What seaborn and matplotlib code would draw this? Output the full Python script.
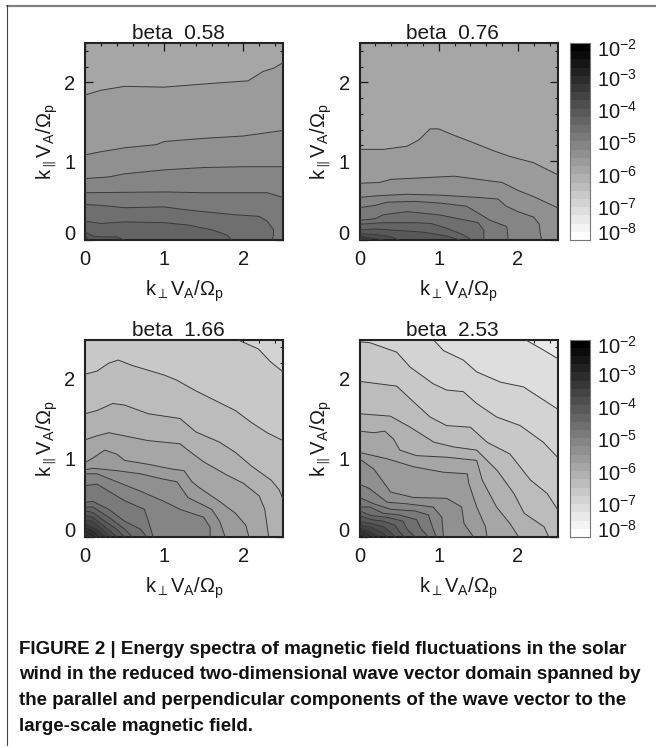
import numpy as np
import matplotlib
matplotlib.use("Agg")
import matplotlib.pyplot as plt
from matplotlib.colors import ListedColormap
from matplotlib.lines import Line2D
from matplotlib.ticker import MultipleLocator
import seaborn as sns

# contour traces, outermost first
p1_start = 8
p1_kperp = [
    [0, 0.2, 0.5, 1.0, 1.5, 2.06, 2.25, 2.38, 2.5],
    [0, 0.2, 0.5, 0.9, 1.0, 1.5, 2.0, 2.5],
    [0, 0.3, 0.5, 1.0, 1.5, 2.0, 2.5],
    [0, 1.0, 1.5, 2.0, 2.3, 2.5],
    [0, 0.2, 0.5, 1.0, 1.3, 1.5, 1.9, 2.2, 2.3, 2.38, 2.38, 2.36],
    [0, 0.2, 0.5, 1.0, 1.3, 1.6, 1.8, 1.85],
    [0, 0.1, 0.2, 0.4, 0.5],
    [0, 0.05],
]
p1_kpar = [
    [1.84, 1.9, 1.95, 1.94, 1.98, 2.02, 2.14, 2.18, 2.25],
    [1.08, 1.12, 1.17, 1.21, 1.25, 1.29, 1.32, 1.39],
    [0.78, 0.80, 0.84, 0.89, 0.92, 0.93, 0.93],
    [0.60, 0.61, 0.60, 0.60, 0.60, 0.54],
    [0.45, 0.44, 0.41, 0.42, 0.38, 0.36, 0.32, 0.30, 0.24, 0.13, 0.05, 0],
    [0.24, 0.21, 0.23, 0.22, 0.19, 0.13, 0.06, 0],
    [0.10, 0.05, 0.04, 0.04, 0],
    [0.05, 0],
]

p2_start = 8
p2_kperp = [
    [0, 0.3, 0.6, 0.75, 0.89, 1.0, 1.19, 1.4, 1.7, 1.9, 2.2, 2.5],
    [0, 0.25, 0.4, 0.8, 1.2, 1.5, 1.8, 2.0, 2.2, 2.5],
    [0, 0.2, 0.6, 1.0, 1.5, 1.75, 1.85, 2.0, 2.2, 2.27, 2.28, 2.3],
    [0, 0.2, 0.35, 0.7, 1.0, 1.35, 1.65, 1.86, 1.87, 1.88],
    [0, 0.2, 0.3, 0.6, 1.0, 1.2, 1.5, 1.57, 1.57],
    [0, 0.3, 0.7, 0.9, 1.1, 1.3, 1.42],
    [0, 0.2, 0.5, 0.8, 1.1, 1.27],
    [0, 0.2, 0.4, 0.5],
    [0, 0.3],
    [0, 0.15],
    [0, 0.1],
    [0, 0.07],
    [0, 0.04],
]
p2_kpar = [
    [1.15, 1.15, 1.19, 1.27, 1.41, 1.41, 1.33, 1.25, 1.13, 1.06, 0.98, 0.83],
    [0.72, 0.73, 0.77, 0.79, 0.81, 0.77, 0.73, 0.63, 0.55, 0.41],
    [0.54, 0.56, 0.58, 0.57, 0.54, 0.52, 0.43, 0.36, 0.29, 0.20, 0.10, 0],
    [0.41, 0.44, 0.48, 0.49, 0.47, 0.43, 0.25, 0.17, 0.08, 0],
    [0.25, 0.27, 0.32, 0.36, 0.32, 0.28, 0.22, 0.12, 0],
    [0.20, 0.22, 0.22, 0.21, 0.15, 0.07, 0],
    [0.13, 0.14, 0.12, 0.10, 0.05, 0],
    [0.08, 0.07, 0.04, 0],
    [0.05, 0],
    [0.04, 0],
    [0.03, 0],
    [0.02, 0],
    [0.01, 0],
]

p3_start = 4
p3_kperp = [
    [1.92, 2.19, 2.34, 2.5],
    [0, 0.15, 0.3, 0.42, 0.6, 1.0, 1.15, 1.4, 1.7, 1.9, 2.1, 2.3, 2.5],
    [0, 0.15, 0.35, 0.5, 0.8, 1.2, 1.4, 1.7, 1.9, 2.1, 2.35, 2.45, 2.5],
    [0, 0.15, 0.3, 0.5, 0.8, 1.2, 1.3, 1.5, 1.8, 2.0, 2.2, 2.27, 2.32],
    [0, 0.1, 0.25, 0.4, 0.5, 0.8, 1.1, 1.25, 1.35, 1.45, 1.7, 1.9, 2.03, 2.07],
    [0, 0.1, 0.4, 0.7, 1.0, 1.16, 1.3, 1.6, 1.7, 1.77],
    [0, 0.15, 0.4, 0.7, 1.0, 1.2, 1.5, 1.58, 1.58],
    [0, 0.15, 0.3, 0.5, 0.75, 0.8, 0.86],
    [0, 0.1, 0.3, 0.5, 0.7, 0.78],
    [0, 0.1, 0.3, 0.5, 0.6],
    [0, 0.1, 0.25, 0.4, 0.5],
    [0, 0.1, 0.2, 0.35, 0.4],
    [0, 0.1, 0.3, 0.33],
    [0, 0.15, 0.27],
    [0, 0.1, 0.2],
    [0, 0.15],
    [0, 0.1],
    [0, 0.07],
    [0, 0.04],
]
p3_kpar = [
    [2.5, 2.38, 2.22, 2.09],
    [2.06, 2.1, 2.2, 2.24, 2.17, 2.05, 1.99, 1.85, 1.7, 1.6, 1.45, 1.32, 1.22],
    [1.56, 1.6, 1.69, 1.67, 1.56, 1.5, 1.33, 1.2, 1.07, 0.9, 0.72, 0.6, 0.48],
    [1.23, 1.28, 1.32, 1.28, 1.22, 1.18, 1.1, 0.95, 0.78, 0.68, 0.52, 0.35, 0],
    [0.94, 1.0, 1.1, 1.05, 0.97, 0.92, 0.86, 0.84, 0.7, 0.62, 0.45, 0.3, 0.15, 0],
    [0.85, 0.87, 0.84, 0.8, 0.73, 0.7, 0.5, 0.35, 0.2, 0],
    [0.8, 0.8, 0.7, 0.58, 0.45, 0.35, 0.25, 0.12, 0],
    [0.65, 0.67, 0.58, 0.46, 0.35, 0.2, 0],
    [0.44, 0.45, 0.35, 0.2, 0.1, 0],
    [0.38, 0.38, 0.25, 0.1, 0],
    [0.33, 0.31, 0.2, 0.1, 0],
    [0.27, 0.25, 0.17, 0.05, 0],
    [0.22, 0.2, 0.03, 0],
    [0.17, 0.1, 0],
    [0.13, 0.09, 0],
    [0.1, 0],
    [0.07, 0],
    [0.05, 0],
    [0.03, 0],
]

p4_start = 2
p4_kperp = [
    [2.09, 2.3, 2.5],
    [0.93, 1.06, 1.31, 1.48, 1.78, 2.07, 2.5],
    [0, 0.13, 0.47, 0.64, 0.93, 1.1, 1.31, 1.48, 1.73, 2.03, 2.32, 2.5],
    [0, 0.47, 0.64, 0.89, 1.1, 1.4, 1.61, 1.9, 2.16, 2.37, 2.5],
    [0, 0.39, 0.64, 0.94, 1.19, 1.48, 1.74, 1.95, 2.08, 2.33, 2.39],
    [0, 0.18, 0.32, 0.43, 0.51, 0.72, 1.1, 1.48, 1.55, 1.73, 1.9, 2.01],
    [0, 0.35, 0.68, 1.06, 1.36, 1.38, 1.48, 1.59, 1.61],
    [0, 0.18, 0.35, 0.39, 0.68, 1.1, 1.29, 1.32, 1.44],
    [0, 0.13, 0.35, 0.6, 0.93, 1.04, 1.06],
    [0, 0.18, 0.4, 0.7, 0.87, 0.93, 0.97],
    [0, 0.13, 0.3, 0.5, 0.72, 0.78, 0.87],
    [0, 0.15, 0.35, 0.55, 0.6, 0.7],
    [0, 0.15, 0.3, 0.45, 0.5, 0.57],
    [0, 0.15, 0.3, 0.4, 0.45],
    [0, 0.15, 0.3, 0.35],
    [0, 0.12, 0.25],
    [0, 0.1, 0.18],
    [0, 0.12],
    [0, 0.07],
]
p4_kpar = [
    [2.5, 2.38, 2.26],
    [2.5, 2.36, 2.24, 2.09, 1.96, 1.9, 1.62],
    [2.47, 2.46, 2.34, 2.15, 1.94, 1.86, 1.84, 1.69, 1.52, 1.41, 1.2, 1.01],
    [1.97, 1.91, 1.75, 1.52, 1.41, 1.39, 1.2, 1.05, 0.72, 0.55, 0.35],
    [1.56, 1.53, 1.39, 1.2, 1.14, 1.1, 0.84, 0.55, 0.3, 0.13, 0],
    [1.34, 1.32, 1.34, 1.24, 1.1, 1.03, 1.01, 0.97, 0.72, 0.38, 0.17, 0],
    [1.07, 0.99, 0.89, 0.82, 0.8, 0.68, 0.38, 0.13, 0],
    [0.99, 0.86, 0.63, 0.57, 0.5, 0.49, 0.38, 0.17, 0],
    [0.67, 0.61, 0.44, 0.42, 0.38, 0.25, 0],
    [0.5, 0.42, 0.35, 0.33, 0.28, 0.1, 0],
    [0.38, 0.38, 0.3, 0.28, 0.22, 0.1, 0],
    [0.33, 0.27, 0.25, 0.2, 0.1, 0],
    [0.27, 0.22, 0.2, 0.15, 0.07, 0],
    [0.2, 0.17, 0.13, 0.05, 0],
    [0.15, 0.12, 0.05, 0],
    [0.12, 0.08, 0],
    [0.09, 0.05, 0],
    [0.06, 0],
    [0.04, 0],
]

betas = ["0.58", "0.76", "1.66", "2.53"]
major_ticks = [0, 1, 2]
decades = [-2, -3, -4, -5, -6, -7, -8]
caption = [
    "FIGURE 2 | Energy spectra of magnetic field fluctuations in the solar",
    "wind in the reduced two-dimensional wave vector domain spanned by",
    "the parallel and perpendicular components of the wave vector to the",
    "large-scale magnetic field.",
]

W, H = 656, 748
n_bands = 24
band_gray = [1 - i / (n_bands - 1) for i in range(n_bands)]

sns.set_style("ticks")
plt.rcParams["font.family"] = ["Liberation Sans", "DejaVu Sans"]
plt.rcParams["mathtext.fontset"] = "custom"
plt.rcParams["mathtext.rm"] = "Liberation Sans"
plt.rcParams["mathtext.it"] = "Liberation Sans"
plt.rcParams["mathtext.bf"] = "Liberation Sans:bold"

xlabel = r"k$_{\perp}$V$_{\mathrm{A}}$/$\mathrm{\Omega_p}$"
ylabel = r"k$_{\parallel}$V$_{\mathrm{A}}$/$\mathrm{\Omega_p}$"
tick_size = 14.5
text_color = "#1a1a1a"


def px_axes(left, top, right, bottom):
    return fig.add_axes([left / W, 1 - bottom / H, (right - left) / W, (bottom - top) / H])


def draw_panel(ax, kperp, kpar, start, beta):
    ax.set_facecolor(str(band_gray[start]))
    lim = 2.5
    for n, (xs, ys) in enumerate(zip(kperp, kpar)):
        px = list(xs)
        py = list(ys)
        # close the band against the axes corners
        if ys[-1] > 0:
            px.append(lim)
            py.append(0)
        px.append(0)
        py.append(0)
        if xs[0] > 0:
            px.append(0)
            py.append(lim)
        ax.fill(px, py, color=str(band_gray[start + n + 1]), lw=0, zorder=1 + n * 0.01)
    for xs, ys in zip(kperp, kpar):
        sns.lineplot(x=xs, y=ys, sort=False, estimator=None, color="#3a3a3a", lw=0.7, ax=ax, zorder=3)
    ax.set_xlim(0, lim)
    ax.set_ylim(0, lim)
    ax.set_xticks(major_ticks)
    ax.set_yticks(major_ticks)
    ax.xaxis.set_minor_locator(MultipleLocator(0.2))
    ax.yaxis.set_minor_locator(MultipleLocator(0.2))
    ax.tick_params(which="major", direction="in", length=5.5, width=0.9, top=True, right=True,
                   labelsize=tick_size, colors=text_color, pad=7)
    ax.tick_params(which="minor", direction="in", length=2.5, width=0.8, top=True, right=True,
                   color=text_color)
    # the zero on the y axis sits above its tick
    ax.get_yticklabels()[0].set_va("baseline")
    for s in ax.spines.values():
        s.set_linewidth(1.5)
        s.set_color("#222222")
    ax.text(0.47, 1.0, "beta  " + beta, transform=ax.transAxes, fontsize=15, color=text_color,
            ha="center", va="bottom")
    ax.set_xlabel(xlabel, fontsize=tick_size, color=text_color, labelpad=7)
    ax.set_ylabel(ylabel, fontsize=tick_size, color=text_color, labelpad=3)


def draw_bar(ax):
    bands = np.arange(n_bands)[::-1].reshape(-1, 1)
    cmap = ListedColormap([str(g) for g in band_gray])
    sns.heatmap(bands, cmap=cmap, cbar=False, ax=ax, xticklabels=False, yticklabels=False)
    ax.set_yticks([0.6, 4.2, 8.2, 12.1, 16.1, 20.0, 23])
    ax.set_yticklabels([r"10$^{%d}$" % d for d in decades], rotation=0, fontsize=tick_size, color=text_color)
    ax.yaxis.tick_right()
    ax.tick_params(axis="y", length=0, pad=5)
    ax.tick_params(axis="x", length=0)
    for s in ax.spines.values():
        s.set_visible(True)
        s.set_linewidth(0.8)
        s.set_color("#777777")


fig = plt.figure(figsize=(W / 100, H / 100), dpi=100)

ax1 = px_axes(85, 43, 283, 240)
ax2 = px_axes(359.5, 43, 557.5, 240)
ax3 = px_axes(85, 339.5, 283, 537)
ax4 = px_axes(359.5, 339.5, 557.5, 537)
draw_panel(ax1, p1_kperp, p1_kpar, p1_start, betas[0])
draw_panel(ax2, p2_kperp, p2_kpar, p2_start, betas[1])
draw_panel(ax3, p3_kperp, p3_kpar, p3_start, betas[2])
draw_panel(ax4, p4_kperp, p4_kpar, p4_start, betas[3])

draw_bar(px_axes(570, 43, 590, 240))
draw_bar(px_axes(570, 339.5, 590, 537))

# frame of the journal box
fig.add_artist(Line2D([7 / W, 1], [1 - 5.5 / H, 1 - 5.5 / H], color="#808080", lw=1.6))
fig.add_artist(Line2D([7 / W, 7 / W], [1 - 5 / H, 1 - 745 / H], color="#444444", lw=0.8))

for n, line in enumerate(caption):
    fig.text(19 / W, 1 - (649 + n * 25.7) / H, line, fontsize=13.5, fontweight="bold",
             color="#111111", va="center", ha="left")

fig.savefig("out.png", dpi=100)
